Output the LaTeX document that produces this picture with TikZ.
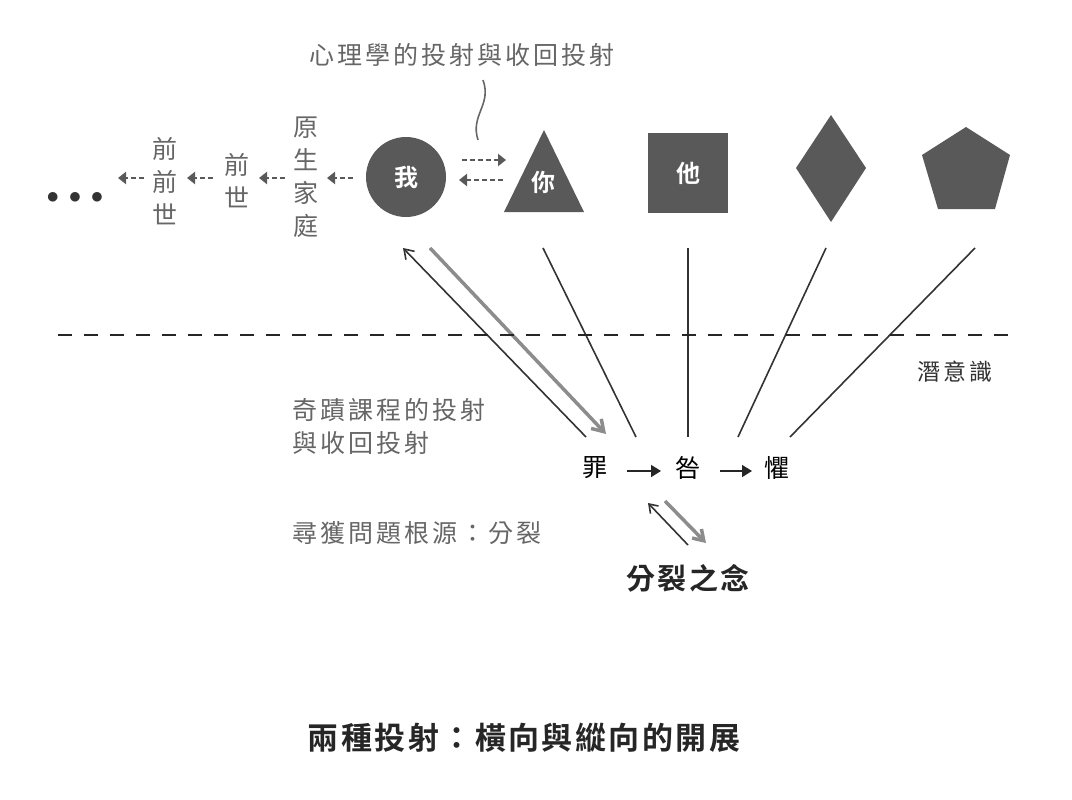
\documentclass[tikz,border=0pt]{standalone}
\usepackage{fontspec}
\setmainfont{Noto Sans CJK TC}[LetterSpace=12,BoldFont={Noto Sans CJK TC Bold}]
\newfontfamily\cjkb{Noto Sans CJK TC Bold}[LetterSpace=8]
\usetikzlibrary{arrows.meta}
\definecolor{dk}{HTML}{595959}
\definecolor{gr}{HTML}{666666}
\definecolor{lg}{HTML}{8C8C8C}
\begin{document}
\begin{tikzpicture}[x=1pt,y=-1pt,
  lbl/.style={font=\fontsize{25}{25}\selectfont,text=gr,inner sep=0},
  vt/.style={lbl,align=center,font=\fontsize{25}{33}\selectfont},
  shp/.style={fill=dk,text=white,font=\fontsize{24}{24}\selectfont\bfseries},
  dar/.style={dk,line width=2.2pt,dash pattern=on 5pt off 3pt,-{Triangle[length=8pt,width=12pt]}},
  ln/.style={line width=1.6pt,draw=black!80},
  blk/.style={line width=1.6pt,black!85,-{Triangle[length=10pt,width=12pt]}},
  mk/.style={font=\fontsize{25}{25}\selectfont,text=black,inner sep=0}]
\useasboundingbox (0,0) rectangle (1072,800);
\node[lbl] (cap) at (462,55) {心理學的投射與收回投射};
\coordinate (s1) at (483,80); \coordinate (s2) at (478,140);
\draw[gr,line width=1.6pt] (s1) .. controls (492,105) and (470,115) .. (s2);
\node[shp,circle,minimum size=80pt,inner sep=0] (me) at (406,177) {我};
\fill[dk] (544,130) -- (504,212) -- (584,212) -- cycle;
\node[text=white,font=\fontsize{24}{24}\selectfont\bfseries] (you) at (543,182) {你};
\node[shp,minimum size=80pt,inner sep=0] (he) at (688,173) {他};
\fill[dk] (831,115) -- (866,168) -- (831,222) -- (796,168) -- cycle;
\coordinate (dia) at (831,168);
\fill[dk] (966,127) -- (1010,155) -- (995,209) -- (938,209) -- (922,155) -- cycle;
\coordinate (pen) at (966,170);
\coordinate (a1) at (462,160); \coordinate (a2) at (506,160);
\coordinate (b1) at (503,180); \coordinate (b2) at (459,180);
\draw[dar] (a1) -- (a2); \draw[dar] (b1) -- (b2);
\node[vt] (yuan) at (306,177) {原\\生\\家\\庭};
\node[vt] (qs) at (237,181) {前\\世};
\node[vt] (qqs) at (165,181) {前\\前\\世};
\node[font=\fontsize{25}{25}\selectfont,text=black!80] (dots) at (75,198) {$\bullet\,\bullet\,\bullet$};
\foreach \x in {353,285,213,144}{\draw[dar] (\x,178) -- (\x-26,178);}
\coordinate (z1) at (586,437); \coordinate (z0) at (403,248);
\draw[ln,-{Straight Barb[length=9pt,width=12pt]}] (z1) -- (z0);
\draw[lg,line width=3.5pt,-{Straight Barb[length=11pt,width=14pt]}] (430,248) -- (606,434);
\draw[ln] (543,248) -- (636,437);
\draw[ln] (688,248) -- (688,437);
\draw[ln] (826,248) -- (738,437);
\draw[ln] (975,248) -- (790,437);
\draw[line width=2pt,black!85,dash pattern=on 14pt off 12pt] (58,335) -- (1015,335);
\node[lbl,text=black!80,font=\fontsize{23}{23}\selectfont] (unc) at (955,372) {潛意識};
\node[lbl,anchor=west] (t1) at (292,410) {奇蹟課程的投射};
\node[lbl,anchor=west] (t2) at (292,443) {與收回投射};
\node[lbl,anchor=west] (t3) at (292,533) {尋獲問題根源：分裂};
\node[mk] (zui) at (595,468) {罪};
\node[mk] (jiu) at (688,468) {咎};
\node[mk] (ju) at (777,468) {懼};
\draw[blk] (627,471) -- (661,471);
\draw[blk] (720,471) -- (752,471);
\draw[ln,-{Straight Barb[length=8pt,width=11pt]}] (688,545) -- (648,503);
\draw[lg,line width=3.5pt,-{Straight Barb[length=10pt,width=13pt]}] (665,501) -- (706,543);
\node[inner sep=0,text=black!85] (fl) at (688,578) {\cjkb\fontsize{29}{29}\selectfont 分裂之念};
\node[inner sep=0,text=black!85] (title) at (524,738) {\cjkb\fontsize{31}{31}\selectfont 兩種投射：橫向與縱向的開展};
\end{tikzpicture}
\end{document}
